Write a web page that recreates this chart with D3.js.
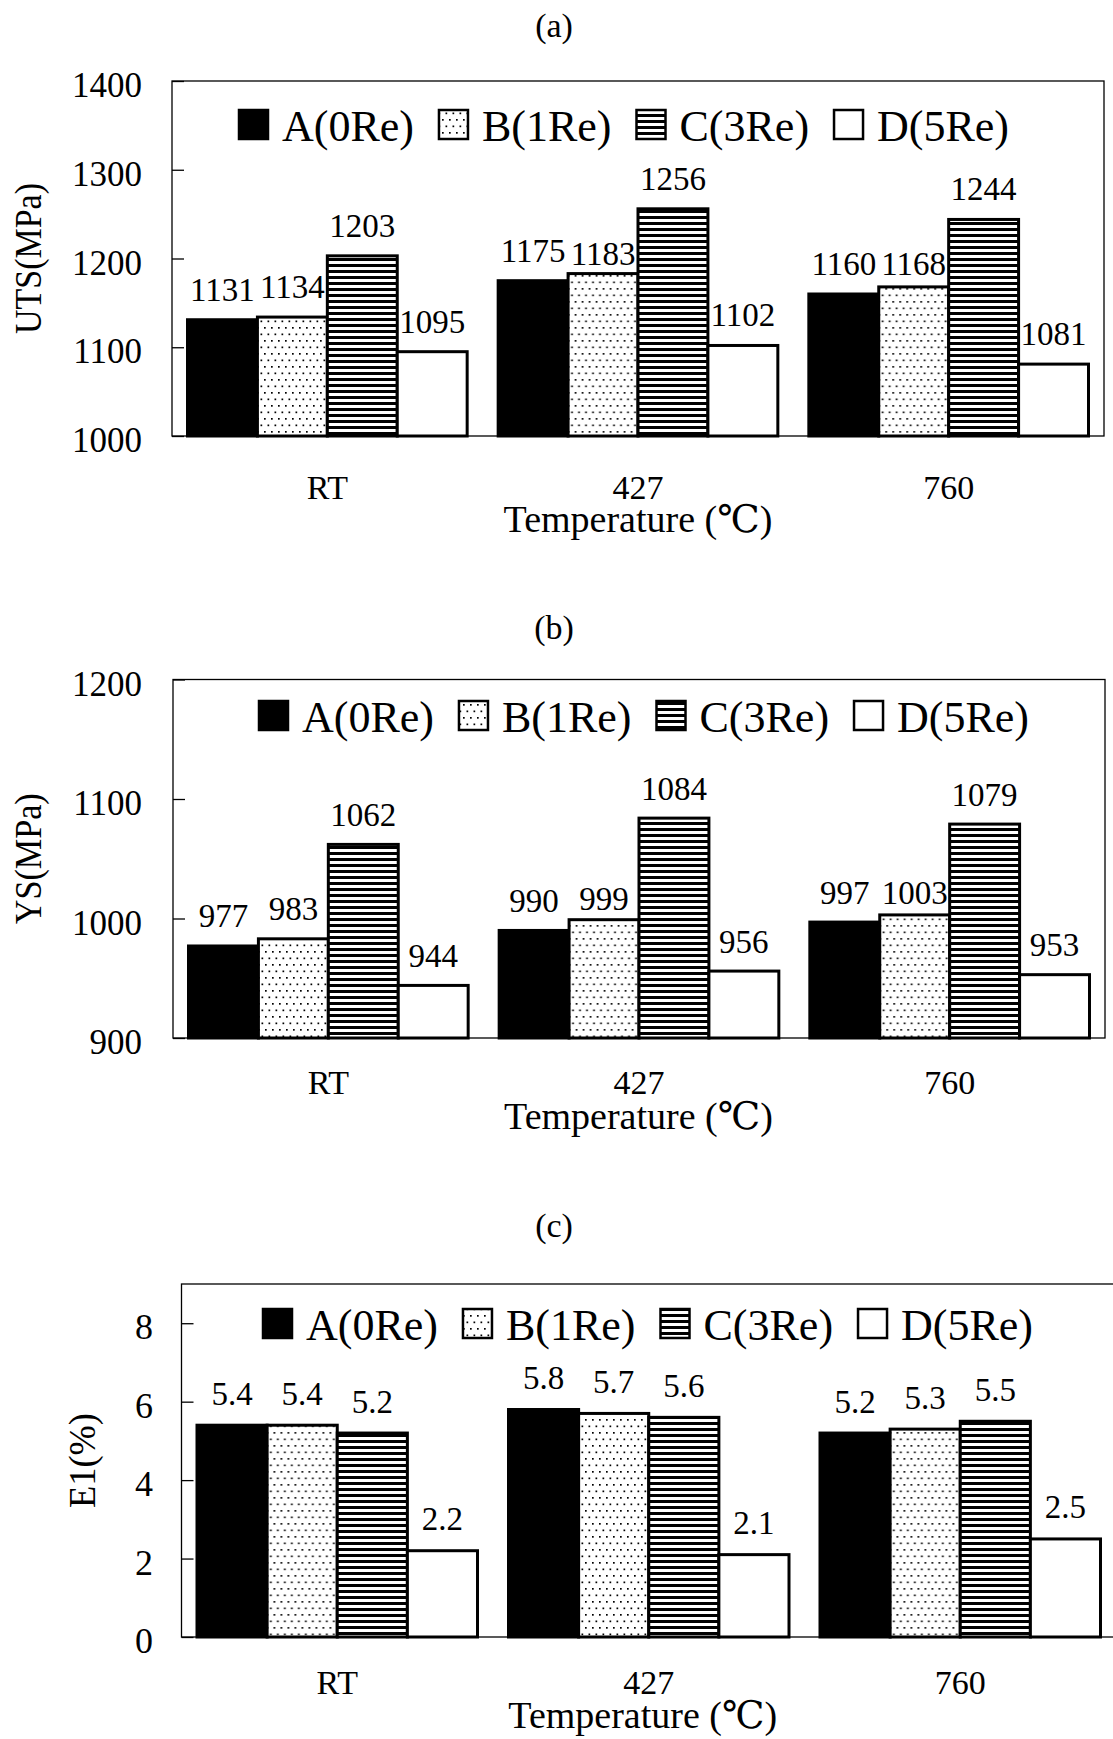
<!DOCTYPE html>
<html>
<head>
<meta charset="utf-8">
<script src="https://cdn.jsdelivr.net/npm/d3@7/dist/d3.min.js"></script>
<style>
  html, body { margin: 0; padding: 0; background: #fff; }
  svg { display: block; }
  text { font-family: "Liberation Serif", "Times New Roman", "DejaVu Serif", serif; fill: #000; }
</style>
</head>
<body>
<svg id="fig" width="1113" height="1739"></svg>
<script>
// --- data ---
const categories = ['RT', '427', '760'];
const series = ['A(0Re)', 'B(1Re)', 'C(3Re)', 'D(5Re)'];
const utsValues = [
  [1131, 1134, 1203, 1095],
  [1175, 1183, 1256, 1102],
  [1160, 1168, 1244, 1081]
];
const ysValues = [
  [977, 983, 1062, 944],
  [990, 999, 1084, 956],
  [997, 1003, 1079, 953]
];
const elValues = [
  [5.4, 5.4, 5.2, 2.2],
  [5.8, 5.7, 5.6, 2.1],
  [5.2, 5.3, 5.5, 2.5]
];
const utsTicks = [1000, 1100, 1200, 1300, 1400];
const ysTicks = [900, 1000, 1100, 1200];
const elTicks = [0, 2, 4, 6, 8];

// --- layout ---
// a few value labels sit lower in the original (dragged by hand), px down
const labelNudge = { '(a)|427|1': 10, '(a)|760|1': 7, '(b)|427|1': 9, '(b)|760|1': 8 };

const panels = [
  { tag: '(a)', tagY: 37, yTitle: 'UTS(MPa)', yTitleLen: 151, yTitleX: 41,
    values: utsValues, ticks: utsTicks, domain: [1000, 1400],
    left: 172, right: 1104, top: 81, bottom: 436,
    tickFont: 35, tickRight: 142, valueFont: 33, valueGap: 19,
    legendX: 239, legendY: 110, catBase: 499, titleBase: 532 },
  { tag: '(b)', tagY: 639, yTitle: 'YS(MPa)', yTitleLen: 131, yTitleX: 41,
    values: ysValues, ticks: ysTicks, domain: [900, 1200],
    left: 173, right: 1105, top: 679.5, bottom: 1038,
    tickFont: 35, tickRight: 142, valueFont: 33, valueGap: 18.5,
    legendX: 259, legendY: 701, catBase: 1094, titleBase: 1129 },
  { tag: '(c)', tagY: 1237, yTitle: 'E1(%)', yTitleLen: 95, yTitleX: 95,
    values: elValues, ticks: elTicks, domain: [0, 9],
    left: 181.5, right: 1116, top: 1284, bottom: 1637,
    tickFont: 36, tickRight: 153, valueFont: 33, valueGap: 20.5,
    legendX: 263, legendY: 1309, catBase: 1694, titleBase: 1728 }
];

const GROUP_PAD = 15.5;
const BAR_STROKE = 3;
const fills = ['#000', 'url(#pat-dots)', 'url(#pat-stripes)', '#fff'];

const svg = d3.select('#fig');
svg.append('rect').attr('width', 1113).attr('height', 1739).attr('fill', '#fff');

const defs = svg.append('defs');
const dots = defs.append('pattern').attr('id', 'pat-dots')
  .attr('patternUnits', 'userSpaceOnUse').attr('width', 7).attr('height', 13);
dots.append('rect').attr('width', 7).attr('height', 13).attr('fill', '#fff');
dots.append('rect').attr('x', 1).attr('y', 2).attr('width', 1.7).attr('height', 1.7).attr('fill', '#000');
dots.append('rect').attr('x', 4.5).attr('y', 8.5).attr('width', 1.7).attr('height', 1.7).attr('fill', '#000');
const stripes = defs.append('pattern').attr('id', 'pat-stripes')
  .attr('patternUnits', 'userSpaceOnUse').attr('width', 8).attr('height', 6);
stripes.append('rect').attr('width', 8).attr('height', 6).attr('fill', '#fff');
stripes.append('rect').attr('y', 0).attr('width', 8).attr('height', 3).attr('fill', '#000');

function drawPanel(p) {
  const g = svg.append('g');
  const x0 = d3.scaleBand().domain(categories).range([p.left, p.right]);
  const x1 = d3.scaleBand().domain(series).range([GROUP_PAD, x0.bandwidth() - GROUP_PAD]);
  const y = d3.scaleLinear().domain(p.domain).range([p.bottom, p.top]);

  // panel tag
  g.append('text').attr('x', 554).attr('y', p.tagY).attr('text-anchor', 'middle')
    .style('font-size', '34px').text(p.tag);

  // frame
  g.append('rect').attr('x', p.left).attr('y', p.top)
    .attr('width', p.right - p.left).attr('height', p.bottom - p.top)
    .attr('fill', 'none').attr('stroke', '#000').attr('stroke-width', 1.3);

  // y axis: inward ticks, labels right-aligned left of the frame
  const yAxis = g.append('g').attr('transform', `translate(${p.left},0)`)
    .call(d3.axisLeft(y).tickValues(p.ticks).tickSizeInner(-12).tickSizeOuter(0)
      .tickPadding(p.left - p.tickRight).tickFormat(d3.format('d')));
  yAxis.select('.domain').remove();
  yAxis.selectAll('.tick line').attr('stroke', '#000').attr('stroke-width', 1.3);
  yAxis.selectAll('.tick text').attr('dy', null).attr('y', 15.5)
    .attr('font-family', null).attr('font-size', null)
    .style('font-size', p.tickFont + 'px');

  // category axis
  const xAxis = g.append('g').attr('transform', `translate(0,${p.bottom})`)
    .call(d3.axisBottom(x0).tickSize(0).tickPadding(0));
  xAxis.select('.domain').remove();
  xAxis.selectAll('.tick text').attr('dy', null).attr('y', p.catBase - p.bottom)
    .attr('font-family', null).attr('font-size', null).style('font-size', '34px');

  // axis titles
  g.append('text').attr('x', (p.left + Math.min(p.right, 1104)) / 2).attr('y', p.titleBase)
    .attr('text-anchor', 'middle').style('font-size', '38px').text('Temperature (℃)');
  g.append('text').attr('transform', `translate(${p.yTitleX},${(p.top + p.bottom) / 2}) rotate(-90)`)
    .attr('text-anchor', 'middle').style('font-size', '38px')
    .attr('textLength', p.yTitleLen).attr('lengthAdjust', 'spacingAndGlyphs').text(p.yTitle);

  // bars
  const rows = p.values.map((vals, i) => ({ cat: categories[i], vals }));
  const grp = g.selectAll('g.grp').data(rows).join('g').attr('class', 'grp')
    .attr('transform', (d) => `translate(${x0(d.cat)},0)`);
  const cells = (d) => d.vals.map((v, j) => ({ cat: d.cat, s: series[j], v, j }));
  grp.selectAll('rect').data(cells).join('rect')
    .attr('x', (d) => x1(d.s)).attr('width', x1.bandwidth())
    .attr('y', (d) => y(d.v)).attr('height', (d) => p.bottom - y(d.v))
    .attr('fill', (d) => fills[d.j]).attr('stroke', '#000').attr('stroke-width', BAR_STROKE);
  grp.selectAll('text').data(cells).join('text')
    .attr('x', (d) => x1(d.s) + x1.bandwidth() / 2)
    .attr('y', (d) => y(d.v) - p.valueGap + (labelNudge[`${p.tag}|${d.cat}|${d.j}`] || 0))
    .attr('text-anchor', 'middle').style('font-size', p.valueFont + 'px')
    .text((d) => String(d.v));

  // legend
  let lx = p.legendX;
  series.forEach((s, j) => {
    g.append('rect').attr('x', lx).attr('y', p.legendY).attr('width', 29).attr('height', 29)
      .attr('fill', fills[j]).attr('stroke', '#000').attr('stroke-width', 2.5);
    const t = g.append('text').attr('x', lx + 43).attr('y', p.legendY + 31)
      .style('font-size', '44px').text(s);
    lx += 43 + t.node().getComputedTextLength() + 25;
  });
}

panels.forEach(drawPanel);
</script>
</body>
</html>
